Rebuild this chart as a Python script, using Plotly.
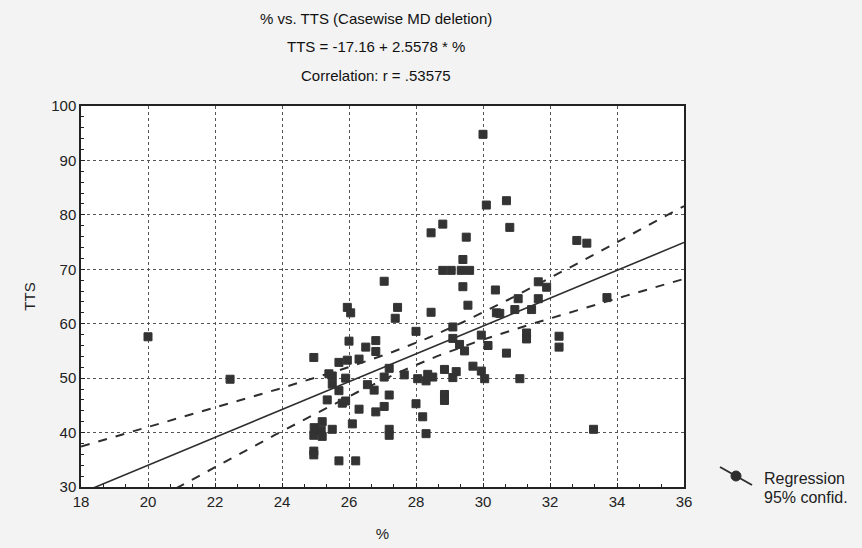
import numpy as np
import plotly.graph_objects as go

# Data: % (x) vs TTS (y)
pct = [20.0, 22.45, 24.95, 24.96, 24.95, 24.95, 24.95, 25.2, 25.17, 25.2,
       25.35, 25.4, 25.5, 25.5, 25.5, 25.7, 25.7, 25.7, 25.8, 25.9,
       25.9, 25.95, 26.0, 25.95, 26.05, 26.1, 26.2, 26.3, 26.3, 26.5,
       26.55, 26.75, 26.8, 26.8, 26.8, 27.05, 27.05, 27.05, 27.2, 27.2,
       27.2, 27.2, 27.45, 27.38, 27.65, 28.0, 28.05, 28.0, 28.2, 28.3,
       28.35, 28.3, 28.5, 28.45, 28.45, 28.8, 28.85, 28.85, 28.85, 28.8,
       29.05, 29.35, 29.6, 29.4, 29.4, 29.5, 29.55, 29.1, 29.1, 29.3,
       29.45, 29.2, 29.1, 29.7, 29.95, 29.95, 30.0, 30.1, 30.7, 30.8,
       30.05, 30.15, 30.37, 30.4, 30.5, 30.7, 30.95, 31.05, 31.1, 31.3,
       31.3, 31.45, 31.65, 31.65, 31.9, 32.27, 32.27, 32.8, 33.1, 33.3,
       33.7]
tts = [57.6, 49.8, 53.8, 40.9, 39.5, 36.6, 35.9, 42.0, 40.4, 39.3,
       46.0, 50.8, 50.4, 48.9, 40.6, 52.9, 47.7, 34.8, 45.4, 45.8,
       50.0, 53.3, 56.8, 63.0, 62.0, 41.6, 34.8, 53.5, 44.3, 55.7,
       48.8, 47.8, 56.9, 54.9, 43.8, 67.8, 50.2, 44.8, 51.8, 46.9,
       40.6, 39.5, 63.0, 61.0, 50.6, 58.6, 49.9, 45.3, 42.9, 39.8,
       50.7, 49.5, 50.2, 62.1, 76.7, 78.3, 51.6, 47.0, 45.9, 69.8,
       69.8, 69.8, 69.8, 71.8, 66.8, 75.9, 63.4, 59.4, 57.3, 56.2,
       55.0, 51.2, 50.1, 52.2, 51.3, 57.9, 94.8, 81.8, 82.6, 77.7,
       49.9, 56.0, 66.2, 62.0, 61.9, 54.6, 62.6, 64.6, 49.9, 58.3,
       57.2, 62.6, 67.7, 64.6, 66.7, 57.7, 55.7, 75.3, 74.8, 40.6,
       64.8]

intercept = -17.16
slope = 2.5578

x_ticks = [18, 20, 22, 24, 26, 28, 30, 32, 34, 36]
y_ticks = [30, 40, 50, 60, 70, 80, 90, 100]

title_lines = ["% vs. TTS (Casewise MD deletion)",
               "TTS = -17.16 + 2.5578 * %",
               "Correlation: r = .53575"]

# Regression line and 95% confidence band computed from data
x = np.array(pct)
y = np.array(tts)
n = len(x)
xg = np.linspace(18, 36, 200)
yhat = intercept + slope * xg
res = y - (intercept + slope * x)
s = np.sqrt(np.sum(res ** 2) / (n - 2))
xbar = x.mean()
sxx = np.sum((x - xbar) ** 2)
t = 1.984
hw = t * s * np.sqrt(1.0 / n + (xg - xbar) ** 2 / sxx)

ink = "#2e2e2e"
font = "Liberation Sans, Arial, sans-serif"

fig = go.Figure()
fig.add_trace(go.Scatter(x=xg, y=yhat + hw, mode="lines",
                         line=dict(color=ink, width=2, dash="dash"),
                         hoverinfo="skip", showlegend=False))
fig.add_trace(go.Scatter(x=xg, y=yhat - hw, mode="lines",
                         line=dict(color=ink, width=2, dash="dash"),
                         hoverinfo="skip", showlegend=False))
fig.add_trace(go.Scatter(x=xg, y=yhat, mode="lines",
                         line=dict(color=ink, width=1.6),
                         hoverinfo="skip", showlegend=False))
fig.add_trace(go.Scatter(x=pct, y=tts, mode="markers",
                         marker=dict(symbol="square", size=8, color="#333333",
                                     line=dict(color="#333333", width=1)),
                         showlegend=False))

axis_common = dict(
    showline=True, linecolor="#222222", linewidth=1.5, mirror=True,
    showgrid=True, gridcolor="#555555", gridwidth=1, griddash="dot",
    zeroline=False, ticks="inside", ticklen=4, tickcolor="#222222",
    tickfont=dict(family=font, size=15, color="#222222"),
    automargin=False,
)

fig.update_layout(
    width=862, height=548,
    margin=dict(l=81, r=178, t=106, b=61),
    paper_bgcolor="#f3f3f3", plot_bgcolor="#ffffff",
    font=dict(family=font, color="#222222"),
    xaxis=dict(range=[18, 36], tickvals=x_ticks,
               ticktext=[str(v) for v in x_ticks],
               title=dict(text="%", font=dict(family=font, size=15), standoff=20),
               minor=dict(ticks="inside", ticklen=3, dtick=2/3, tickcolor="#222222", showgrid=False),
               **axis_common),
    yaxis=dict(range=[30, 100], tickvals=y_ticks,
               ticktext=[str(v) for v in y_ticks],
               title=dict(text="TTS", font=dict(family=font, size=15), standoff=12),
               minor=dict(ticks="inside", ticklen=3, dtick=2, tickcolor="#222222", showgrid=False),
               **axis_common),
    showlegend=False,
)

# Title lines
for i, line in enumerate(title_lines):
    fig.add_annotation(text=line, xref="paper", yref="paper",
                       x=0.49, y=1 + (88 - 29 * i) / 381.0, xanchor="center", yanchor="middle",
                       showarrow=False, font=dict(family=font, size=15, color="#111111"))

# Legend block
fig.add_shape(type="line", xref="paper", yref="paper",
              x0=(720 - 81) / 603.0, y0=(487 - 467) / 381.0,
              x1=(752 - 81) / 603.0, y1=(487 - 485) / 381.0,
              line=dict(color=ink, width=2))
fig.add_shape(type="circle", xref="paper", yref="paper",
              x0=(731 - 81) / 603.0, y0=(487 - 481) / 381.0,
              x1=(741 - 81) / 603.0, y1=(487 - 471) / 381.0,
              fillcolor=ink, line=dict(color=ink, width=1))
fig.add_annotation(text="Regression", xref="paper", yref="paper",
                   x=(762 - 81) / 603.0, y=(487 - 478) / 381.0, xanchor="left", yanchor="middle",
                   showarrow=False, font=dict(family=font, size=16, color="#222222"))
fig.add_annotation(text="95% confid.", xref="paper", yref="paper",
                   x=(762 - 81) / 603.0, y=(487 - 497) / 381.0, xanchor="left", yanchor="middle",
                   showarrow=False, font=dict(family=font, size=16, color="#222222"))

fig.write_html("out.html")
